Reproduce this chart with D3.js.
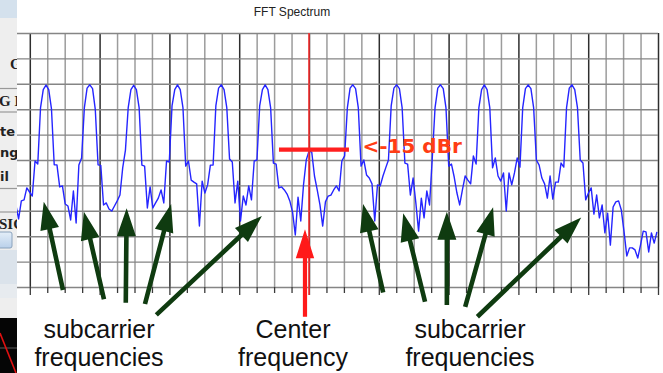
<!DOCTYPE html>
<html>
<head>
<meta charset="utf-8">
<title>FFT Spectrum</title>
<script src="https://cdn.jsdelivr.net/npm/d3@7/dist/d3.min.js"></script>
<style>
  html, body { margin: 0; padding: 0; background: #fff; }
  #chart { display: block; font-family: "Liberation Sans", Arial, sans-serif; }
  .grid path, .ticks path { display: none; }
  .grid-x line { stroke: #9c9c9c; stroke-width: 1.5; }
  .grid-x .tick.major line { stroke: #2e2e2e; stroke-width: 1.5; }
  .grid-y line { stroke: #858585; stroke-width: 1.4; }
  .ticks line { stroke: #3a3a3a; stroke-width: 1.3; }
  .spectrum { fill: none; stroke: #2525ff; stroke-width: 1.4; stroke-linejoin: round; }
  .label { font-size: 25px; fill: #111; text-anchor: middle; }
</style>
</head>
<body>
<svg id="chart" width="663" height="373"></svg>
<script>
// FFT spectrum of a multi-carrier signal, 10 dB per division, annotated.

const firstBin = -107;
const binWidth = 0.157; // grid divisions per FFT bin

const magnitudeDb = [
  -67.7, -73.2, -66.1, -65.7, -61.0, -62.6, -64.2, -50.4, -51.6, -29.5,
  -22.3, -20.5, -22.3, -29.9, -51.9, -51.9, -60.6, -60.2, -67.3, -68.1,
  -73.6, -62.2, -74.8, -52.0, -49.2, -29.5, -21.7, -20.4, -21.9, -30.2,
  -51.9, -52.1, -67.7, -66.9, -69.3, -70.1, -68.1, -66.1, -63.8, -53.1,
  -46.1, -29.5, -22.3, -20.6, -22.3, -29.5, -52.0, -52.4, -68.9, -60.6,
  -68.9, -66.9, -65.0, -61.8, -66.9, -50.4, -50.8, -28.7, -22.3, -20.4,
  -22.3, -29.5, -52.4, -50.4, -57.9, -58.7, -59.4, -76.0, -58.3, -63.0,
  -59.8, -52.0, -52.0, -28.7, -21.7, -20.4, -22.3, -29.5, -49.6, -50.8,
  -66.9, -58.3, -74.0, -64.2, -67.7, -60.2, -65.7, -50.4, -50.0, -28.7,
  -22.3, -20.4, -22.3, -29.5, -51.2, -51.6, -61.0, -60.6, -61.8, -63.4,
  -66.1, -70.5, -79.5, -64.6, -74.0, -59.8, -50.0, -46.5, -46.9, -56.3,
  -61.8, -67.7, -76.0, -66.5, -64.2, -63.8, -61.8, -60.2, -62.2, -50.4,
  -48.4, -29.5, -21.7, -20.4, -21.9, -29.5, -52.4, -50.0, -55.9, -57.1,
  -59.4, -74.0, -59.8, -60.2, -56.3, -53.1, -50.0, -28.7, -21.7, -20.4,
  -21.9, -29.5, -51.2, -51.6, -63.8, -57.1, -66.9, -78.0, -65.0, -72.8,
  -62.2, -67.7, -49.2, -29.5, -21.7, -20.4, -21.9, -29.5, -52.4, -51.6,
  -56.7, -63.0, -67.7, -61.8, -56.3, -57.9, -59.4, -48.4, -51.6, -29.5,
  -22.3, -20.4, -22.3, -29.5, -53.1, -49.2, -56.3, -58.3, -55.1, -70.1,
  -55.1, -59.8, -55.1, -49.2, -52.8, -29.5, -21.9, -20.4, -21.9, -29.5,
  -50.0, -52.0, -57.1, -59.4, -65.0, -56.3, -65.4, -58.7, -58.7, -51.2,
  -52.8, -29.5, -21.7, -20.4, -22.3, -29.5, -50.0, -51.2, -65.7, -63.0,
  -61.0, -71.3, -63.8, -72.8, -67.7, -78.7, -70.9, -83.5, -68.5, -66.5,
  -66.1, -69.7, -78.3, -87.8, -84.6, -84.6, -85.4, -88.6, -83.5, -78.0,
  -78.3, -86.2, -78.7, -82.7, -78.3,
];

const freqTicks = d3.range(-17, 21);
const levelTicks = [-100, -90, -80, -70, -60, -50, -40, -30, -20, -10, 0];

// annotation anchors in data units: [division, dB]
const subcarrierArrowTips = [
  [-15.2, -66.4], [-12.9, -70.4], [-10.45, -69.0], [-7.9, -67.3], [-2.7, -72.0],
  [3.1, -67.3], [5.4, -71.0], [7.9, -70.4], [10.55, -68.6], [15.6, -72.6],
];
const subcarrierArrowTails = [
  [-14.1, -101.2], [-11.75, -104.8], [-10.5, -106.2], [-9.4, -106.7], [-8.75, -111.0],
  [4.25, -102.2], [6.65, -105.8], [7.9, -107.1], [8.95, -107.8], [9.65, -111.7],
];
const centerArrow = { tip: [-0.23, -77.3], tail: [-0.23, -111.7] };
const refLevel = { from: -1.72, to: 2.29, db: -45.9, text: '<-15 dBr' };

const labels = [
  { lines: ['subcarrier', 'frequencies'], x: 99 },
  { lines: ['Center', 'frequency'], x: 293 },
  { lines: ['subcarrier', 'frequencies'], x: 470 },
];

const svg = d3.select('#chart');
const plot = { left: 12.35, right: 658, top: 33, bottom: 287, clipLeft: 17 };

const xScale = d3.scaleLinear().domain(d3.extent(freqTicks)).range([plot.left, plot.right]);
const yScale = d3.scaleLinear().domain(d3.extent(levelTicks)).range([plot.bottom, plot.top]);
const toPx = ([f, db]) => [xScale(f), yScale(db)];

const spectrum = magnitudeDb.map((db, i) => ({ freq: (firstBin + i) * binWidth, db }));

svg.append('text')
  .attr('x', 292)
  .attr('y', 16)
  .attr('text-anchor', 'middle')
  .style('font-size', '12px')
  .style('fill', '#222')
  .text('FFT Spectrum');

// grid
const gridX = svg.append('g')
  .attr('class', 'grid grid-x')
  .attr('transform', `translate(0,${plot.top})`)
  .call(d3.axisBottom(xScale).tickValues(freqTicks).tickSize(plot.bottom - plot.top).tickFormat(''));
gridX.selectAll('.tick').classed('major', (d) => d % 4 === 0);

svg.append('g')
  .attr('class', 'grid grid-y')
  .attr('transform', `translate(${plot.right},0)`)
  .call(d3.axisLeft(yScale).tickValues(levelTicks).tickSize(plot.right - plot.clipLeft).tickFormat(''));

const ticks = svg.append('g')
  .attr('class', 'ticks')
  .attr('transform', `translate(0,${plot.bottom})`)
  .call(d3.axisBottom(xScale).tickValues(freqTicks).tickSize(6).tickFormat(''));
ticks.selectAll('.tick line').attr('y2', (d) => (d % 4 === 0 ? 8 : 6));

const line = d3.line()
  .x((d) => xScale(d.freq))
  .y((d) => yScale(d.db));

svg.append('path')
  .datum(spectrum)
  .attr('class', 'spectrum')
  .attr('d', line);

// centre marker and reference level
svg.append('line')
  .attr('x1', xScale(0))
  .attr('x2', xScale(0))
  .attr('y1', plot.top)
  .attr('y2', plot.bottom + 8)
  .attr('stroke', '#ff2a2a')
  .attr('stroke-width', 1.5);

svg.append('line')
  .attr('x1', xScale(refLevel.from))
  .attr('x2', xScale(refLevel.to))
  .attr('y1', yScale(refLevel.db))
  .attr('y2', yScale(refLevel.db))
  .attr('stroke', '#ff1f1f')
  .attr('stroke-width', 4.2);

svg.append('text')
  .attr('x', 362.5)
  .attr('y', 152.5)
  .style('font-family', '"DejaVu Sans", Verdana, sans-serif')
  .style('font-weight', 'bold')
  .style('font-size', '20px')
  .style('fill', '#ff3d14')
  .text(refLevel.text);

const arrowPath = ([x0, y0], [x1, y1], shaft = 4.6, headLen = 28, headHalf = 9.5) => {
  const len = Math.hypot(x1 - x0, y1 - y0);
  const ux = (x1 - x0) / len;
  const uy = (y1 - y0) / len;
  const nx = -uy;
  const ny = ux;
  const bx = x1 - ux * headLen;
  const by = y1 - uy * headLen;
  const s = shaft / 2;
  return d3.line()([
    [x0 + nx * s, y0 + ny * s],
    [bx + nx * s, by + ny * s],
    [bx + nx * headHalf, by + ny * headHalf],
    [x1, y1],
    [bx - nx * headHalf, by - ny * headHalf],
    [bx - nx * s, by - ny * s],
    [x0 - nx * s, y0 - ny * s],
  ]) + 'Z';
};

svg.append('g')
  .attr('class', 'subcarrier-arrows')
  .selectAll('path')
  .data(subcarrierArrowTips.map((tip, i) => ({ tip, tail: subcarrierArrowTails[i] })))
  .join('path')
  .attr('d', (d) => arrowPath(toPx(d.tail), toPx(d.tip)))
  .attr('fill', '#0f3b10');

svg.append('path')
  .attr('class', 'center-arrow')
  .attr('d', arrowPath(toPx(centerArrow.tail), toPx(centerArrow.tip), 4.2, 29, 9.2))
  .attr('fill', '#ff1a1a');

const labelRows = labels.flatMap((l) => l.lines.map((text, i) => ({ text, x: l.x, y: 338 + i * 27.5 })));
svg.append('g')
  .selectAll('text')
  .data(labelRows)
  .join('text')
  .attr('class', 'label')
  .attr('x', (d) => d.x)
  .attr('y', (d) => d.y)
  .text((d) => d.text);

// cropped application side panel at the left edge
const defs = svg.append('defs');
defs.append('clipPath').attr('id', 'panel-clip')
  .append('rect').attr('width', plot.clipLeft).attr('height', 373);
const grad = defs.append('linearGradient').attr('id', 'btn-grad').attr('x1', 0).attr('y1', 0).attr('x2', 0).attr('y2', 1);
grad.append('stop').attr('offset', 0).attr('stop-color', '#e4eef8');
grad.append('stop').attr('offset', 1).attr('stop-color', '#b9d0ea');

const panel = svg.append('g').attr('class', 'side-panel').attr('clip-path', 'url(#panel-clip)');
panel.append('rect').attr('width', plot.clipLeft).attr('height', 373).attr('fill', '#eeeeee');
panel.append('rect').attr('width', plot.clipLeft).attr('height', 18).attr('fill', '#d4e1ed');
panel.append('rect').attr('y', 250).attr('width', plot.clipLeft).attr('height', 34).attr('fill', '#dbe3eb');
panel.append('rect').attr('y', 284).attr('width', plot.clipLeft).attr('height', 14).attr('fill', '#e7ebef');
panel.append('rect').attr('y', 318).attr('width', plot.clipLeft).attr('height', 55).attr('fill', '#050505');
panel.append('line').attr('x1', 0).attr('x2', 17).attr('y1', 348).attr('y2', 348).attr('stroke', '#5a5a5a');
panel.append('line').attr('x1', 0).attr('x2', 16).attr('y1', 333).attr('y2', 373).attr('stroke', '#e01010').attr('stroke-width', 1.6);
[88.5, 112, 188.5, 212].forEach((y) => {
  panel.append('line').attr('x1', 0).attr('x2', 17).attr('y1', y).attr('y2', y).attr('stroke', '#999').attr('stroke-width', 1.2);
});
panel.append('rect').attr('x', -3).attr('y', 232).attr('width', 15).attr('height', 16).attr('rx', 2)
  .attr('fill', 'url(#btn-grad)').attr('stroke', '#8aa2bc');

const panelText = [
  { text: 'G', x: 10, y: 69, serif: true },
  { text: 'G D', x: -1, y: 106, serif: true },
  { text: 'te', x: 0, y: 136, serif: false },
  { text: 'ng', x: 0, y: 157, serif: false },
  { text: 'il', x: 0, y: 181, serif: false },
  { text: 'SIG', x: -1, y: 229, serif: true },
];
panel.selectAll('.panel-text')
  .data(panelText)
  .join('text')
  .attr('class', 'panel-text')
  .attr('x', (d) => d.x)
  .attr('y', (d) => d.y)
  .style('font-family', (d) => (d.serif ? '"Liberation Serif", serif' : '"DejaVu Sans", sans-serif'))
  .style('font-weight', 'bold')
  .style('font-size', (d) => (d.serif ? '15px' : '13px'))
  .style('fill', '#222')
  .text((d) => d.text);
</script>
</body>
</html>
